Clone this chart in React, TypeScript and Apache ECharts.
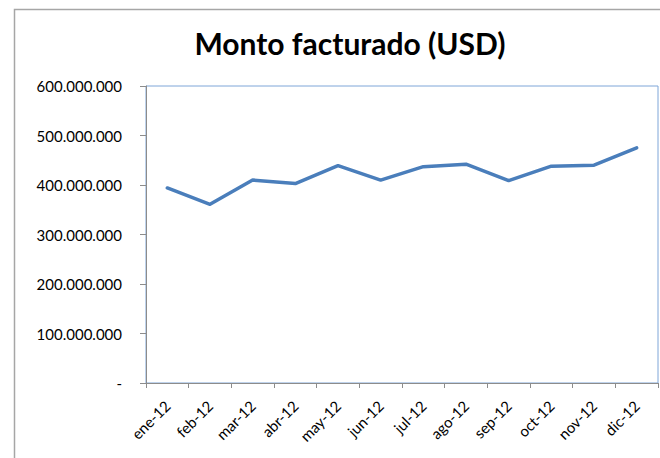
import React, { useEffect, useRef } from "react";
import * as echarts from "echarts";

const categories = ["ene-12", "feb-12", "mar-12", "abr-12", "may-12", "jun-12", "jul-12", "ago-12", "sep-12", "oct-12", "nov-12", "dic-12"];
const montoValues = [394000000, 361000000, 410000000, 403000000, 439000000, 410000000, 437000000, 442000000, 409000000, 438000000, 440000000, 475000000];
const yTicks = [0, 100000000, 200000000, 300000000, 400000000, 500000000, 600000000];
const titleText = "Monto facturado (USD)";

function fmt(v: number): string {
  if (v === 0) return "-";
  return Math.round(v).toString().replace(/\B(?=(\d{3})+(?!\d))/g, ".");
}

export default function App() {
  const ref = useRef<HTMLDivElement>(null);
  useEffect(() => {
    if (!ref.current) return;
    const chart = echarts.init(ref.current, null, { renderer: "svg" });
    const font = "Lato, 'Open Sans', sans-serif";
    chart.setOption({
      animation: false,
      backgroundColor: "#ffffff",
      title: {
        text: titleText,
        left: 345,
        top: 23,
        textAlign: "center",
        textStyle: { fontFamily: font, fontSize: 30, fontWeight: "bold", color: "#000" },
      },
      graphic: [
        {
          type: "rect",
          shape: { x: 14.5, y: 9.5, width: 700, height: 500 },
          style: { fill: "none", stroke: "#a6a6a6", lineWidth: 1.5 },
          silent: true,
          z: -1,
        },
      ],
      grid: {
        left: 146,
        right: 2,
        top: 86,
        bottom: 75,
        show: true,
        borderColor: "#7ea6d8",
        borderWidth: 1,
        backgroundColor: "transparent",
      },
      xAxis: {
        type: "category",
        data: categories,
        boundaryGap: true,
        axisLine: { show: true, lineStyle: { color: "#8c8c8c", width: 1 } },
        axisTick: { show: true, length: 5, lineStyle: { color: "#8c8c8c" }, interval: 0 },
        axisLabel: {
          interval: 0,
          rotate: 45,
          margin: 20,
          fontFamily: font,
          fontSize: 15,
          color: "#000",
        },
      },
      yAxis: {
        type: "value",
        min: 0,
        max: 600000000,
        interval: 100000000,
        splitLine: { show: false },
        axisLine: { show: true, lineStyle: { color: "#8c8c8c", width: 1 } },
        axisTick: { show: true, length: 6, lineStyle: { color: "#8c8c8c" } },
        axisLabel: {
          margin: 24,
          fontFamily: font,
          fontSize: 15,
          color: "#000",
          formatter: (v: number) => (yTicks.includes(v) ? fmt(v) : ""),
        },
      },
      series: [
        {
          type: "line",
          data: montoValues,
          showSymbol: false,
          symbol: "none",
          lineStyle: { color: "#4a7ebb", width: 3.5, cap: "round", join: "round" },
        },
      ],
    });
    return () => chart.dispose();
  }, []);
  return <div ref={ref} style={{ position: "fixed", left: 0, top: 0, width: 660, height: 458 }} />;
}
